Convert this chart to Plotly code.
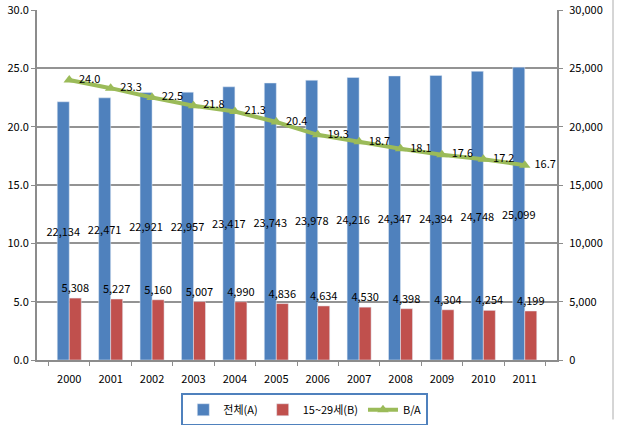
import plotly.graph_objects as go

years = ["2000", "2001", "2002", "2003", "2004", "2005", "2006", "2007", "2008", "2009", "2010", "2011"]
total_a = [22134, 22471, 22921, 22957, 23417, 23743, 23978, 24216, 24347, 24394, 24748, 25099]
youth_b = [5308, 5227, 5160, 5007, 4990, 4836, 4634, 4530, 4398, 4304, 4254, 4199]
ratio_ba = [24.0, 23.3, 22.5, 21.8, 21.3, 20.4, 19.3, 18.7, 18.1, 17.6, 17.2, 16.7]

left_ticks = [0, 5, 10, 15, 20, 25, 30]
right_ticks = [0, 5000, 10000, 15000, 20000, 25000, 30000]

FONT = "Noto Sans CJK KR"
BLUE = "#4F81BD"
RED = "#C0504D"
GREEN = "#9BBB59"
GRAY = "#8C8C8C"

fig = go.Figure()
fig.add_trace(go.Bar(
    x=years, y=total_a, name="전체(A)", marker_color=BLUE, yaxis="y",
    text=[f"{v:,}" for v in total_a], textposition="inside",
    insidetextanchor="middle", constraintext="none",
    textfont=dict(color="black", size=11, family=FONT), textangle=0,
))
fig.add_trace(go.Bar(
    x=years, y=youth_b, name="15~29세(B)", marker_color=RED, yaxis="y",
    text=[f"{v:,}" for v in youth_b], textposition="outside",
    constraintext="none", cliponaxis=False,
    textfont=dict(color="black", size=11, family=FONT), textangle=0,
))
fig.add_trace(go.Scatter(
    x=years, y=ratio_ba, name="B/A", mode="lines+markers+text", yaxis="y2",
    line=dict(color=GREEN, width=4),
    marker=dict(symbol="triangle-up", size=10, color=GREEN),
    text=[" " + f"{v:.1f}" for v in ratio_ba], textposition="middle right",
    textfont=dict(color="black", size=11, family=FONT), cliponaxis=False,
))

fig.update_layout(
    width=621, height=425,
    margin=dict(l=37, r=64, t=10, b=65, autoexpand=False),
    paper_bgcolor="white", plot_bgcolor="white",
    font=dict(family=FONT, size=11, color="black"),
    barmode="group", bargap=0.42, bargroupgap=0,
    showlegend=True,
    legend=dict(
        orientation="h", x=0.515, xanchor="center", y=-0.095, yanchor="top",
        bordercolor=BLUE, borderwidth=2, bgcolor="white",
        font=dict(size=11, family=FONT), traceorder="normal",
        itemwidth=30, tracegroupgap=0,
    ),
    xaxis=dict(
        type="category", showline=True, linecolor=GRAY, linewidth=2,
        ticks="outside", tickcolor=GRAY, ticklen=4, tickson="boundaries",
        showgrid=False, tickfont=dict(size=11), automargin=False,
        ticklabelstandoff=8,
    ),
    yaxis=dict(
        range=[0, 30000], tickvals=right_ticks, ticktext=[f"{v:,}" for v in right_ticks],
        side="right", showline=True, linecolor=GRAY, linewidth=2,
        ticks="outside", tickcolor=GRAY, ticklen=4,
        showgrid=True, gridcolor="#939393", gridwidth=1.5, zeroline=False,
        tickfont=dict(size=11), automargin=False, ticklabelstandoff=4,
    ),
    yaxis2=dict(
        range=[0, 30], tickvals=left_ticks, ticktext=[f"{v:.1f}" for v in left_ticks],
        overlaying="y", side="left",
        showline=True, linecolor=GRAY, linewidth=2, ticks="outside",
        tickcolor=GRAY, ticklen=4, showgrid=False,
        zeroline=False, tickfont=dict(size=11), automargin=False,
    ),
    shapes=[dict(type="line", xref="paper", yref="paper", x0=1.1077, x1=1.1077,
                 y0=-0.17, y1=1.03, line=dict(color="#C8C8C8", width=1.5))],
)

fig.write_html("out.html", config={"displayModeBar": False},
               post_script="document.body.style.margin='0';")
